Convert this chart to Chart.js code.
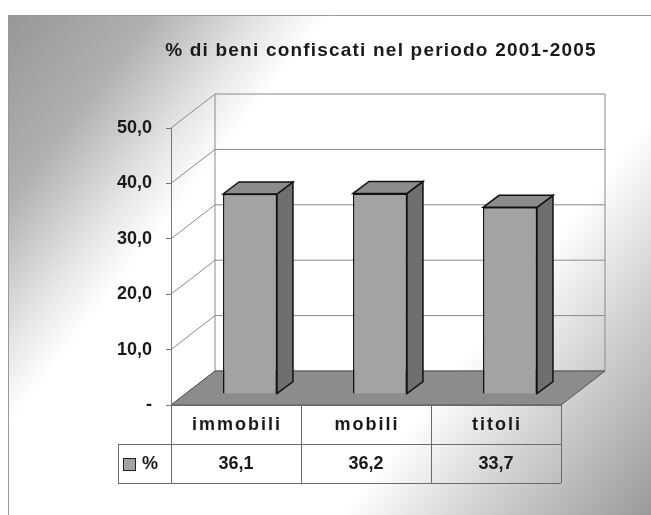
<!DOCTYPE html>
<html>
<head>
<meta charset="utf-8">
<script src="https://cdn.jsdelivr.net/npm/chart.js@4.4.1/dist/chart.umd.min.js"></script>
<style>
	html, body { margin: 0; padding: 0; background: #fff; }
</style>
</head>
<body>
<canvas id="chart" width="651" height="515"></canvas>
<script>
const categories = ['immobili', 'mobili', 'titoli'];
const percentages = [36.1, 36.2, 33.7];
const seriesName = '%';
const chartTitle = '% di beni confiscati nel periodo 2001-2005';
const yMin = 0;
const yMax = 50;
const yStep = 10;

const FONT = '"Liberation Sans", Arial, sans-serif';
const WALL = { dx: 44, dy: -34 };      // offset of the back wall
const SHIFT = { dx: 14, dy: -11 };     // bars stand a bit inside the floor
const BAR = { dx: 16, dy: -12 };       // bar depth

const fmt = (v) => v === 0 ? '-' : v.toFixed(1).replace('.', ',');

const line = (ctx, x1, y1, x2, y2) => {
	ctx.beginPath();
	ctx.moveTo(x1, y1);
	ctx.lineTo(x2, y2);
	ctx.stroke();
};

const poly = (ctx, pts, fill) => {
	ctx.beginPath();
	pts.forEach((p, i) => i ? ctx.lineTo(p[0], p[1]) : ctx.moveTo(p[0], p[1]));
	ctx.closePath();
	ctx.fillStyle = fill;
	ctx.fill();
	ctx.stroke();
};

const scene = {
	id: 'scene',
	beforeDraw(chart) {
		const { ctx, width, height } = chart;
		const { left, right, top, bottom } = chart.chartArea;
		const y = chart.scales.y;
		ctx.save();
		ctx.fillStyle = '#fff';
		ctx.fillRect(0, 0, width, height);

		// page background
		const g = ctx.createLinearGradient(8, 15, width, height);
		g.addColorStop(0, '#979797');
		g.addColorStop(0.14, '#b0b0b0');
		g.addColorStop(0.25, '#e6e6e6');
		g.addColorStop(0.31, '#ffffff');
		g.addColorStop(0.7, '#ffffff');
		g.addColorStop(0.82, '#d4d4d4');
		g.addColorStop(1, '#9a9a9a');
		ctx.fillStyle = g;
		ctx.fillRect(8, 15, width - 8, height - 15);
		ctx.strokeStyle = '#9a9a9a';
		ctx.lineWidth = 1;
		ctx.beginPath();
		ctx.moveTo(8.5, height);
		ctx.lineTo(8.5, 15.5);
		ctx.lineTo(width, 15.5);
		ctx.stroke();

		// title
		ctx.fillStyle = '#1a1a1a';
		ctx.font = 'bold 19px ' + FONT;
		ctx.letterSpacing = '1.2px';
		ctx.textAlign = 'center';
		ctx.textBaseline = 'middle';
		ctx.fillText(chartTitle, 381, 51);
		ctx.letterSpacing = '0px';

		// walls and gridlines
		ctx.strokeStyle = '#8a8a8a';
		for (let v = yMin; v <= yMax; v += yStep) {
			const py = y.getPixelForValue(v);
			line(ctx, left, py, left + WALL.dx, py + WALL.dy);
			line(ctx, left + WALL.dx, py + WALL.dy, right + WALL.dx, py + WALL.dy);
		}
		line(ctx, left + WALL.dx, top + WALL.dy, left + WALL.dx, bottom + WALL.dy);
		line(ctx, right + WALL.dx, top + WALL.dy, right + WALL.dx, bottom + WALL.dy);

		// floor
		ctx.strokeStyle = '#555';
		poly(ctx, [[left, bottom], [right, bottom], [right + WALL.dx, bottom + WALL.dy], [left + WALL.dx, bottom + WALL.dy]], '#8c8c8c');
		ctx.restore();
	},
	beforeDatasetsDraw(chart) {
		chart.ctx.save();
		chart.ctx.translate(SHIFT.dx, SHIFT.dy);
	},
	afterDatasetsDraw(chart) {
		const ctx = chart.ctx;
		ctx.strokeStyle = '#111';
		ctx.lineWidth = 1.5;
		chart.getDatasetMeta(0).data.forEach((el) => {
			const { x, y, base, width } = el.getProps(['x', 'y', 'base', 'width'], true);
			const l = x - width / 2;
			const r = x + width / 2;
			poly(ctx, [[r, y], [r + BAR.dx, y + BAR.dy], [r + BAR.dx, base + BAR.dy], [r, base]], '#6f6f6f');
			poly(ctx, [[l, y], [l + BAR.dx, y + BAR.dy], [r + BAR.dx, y + BAR.dy], [r, y]], '#8c8c8c');
		});
		ctx.restore();
	},
	afterDraw(chart) {
		const ctx = chart.ctx;
		const { left, right, bottom } = chart.chartArea;
		const xs = chart.scales.x;
		const w = (right - left) / categories.length;
		const r0 = bottom;
		const r1 = bottom + 39;
		const r2 = bottom + 78;
		const legendLeft = 118;

		ctx.save();
		ctx.strokeStyle = '#6a6a6a';
		ctx.lineWidth = 1;
		line(ctx, left, r0 + 0.5, right, r0 + 0.5);
		line(ctx, legendLeft, r1 + 0.5, right, r1 + 0.5);
		line(ctx, legendLeft, r2 + 0.5, right, r2 + 0.5);
		line(ctx, legendLeft + 0.5, r1, legendLeft + 0.5, r2);
		for (let i = 0; i <= categories.length; i++) {
			const px = Math.round(left + i * w) + 0.5;
			line(ctx, px, r0, px, r2);
		}

		ctx.fillStyle = '#1a1a1a';
		ctx.textAlign = 'center';
		ctx.textBaseline = 'middle';
		categories.forEach((c, i) => {
			const cx = xs.getPixelForValue(i);
			ctx.font = 'bold 18px ' + FONT;
			ctx.letterSpacing = '2px';
			ctx.fillText(c, cx + 1, r0 + 20);
			ctx.letterSpacing = '0px';
			ctx.fillText(fmt(percentages[i]), cx, r1 + 20);
		});

		// legend key
		ctx.fillStyle = '#a2a2a2';
		ctx.strokeStyle = '#222';
		ctx.fillRect(123.5, r1 + 14.5, 12, 12);
		ctx.strokeRect(123.5, r1 + 14.5, 12, 12);
		ctx.fillStyle = '#1a1a1a';
		ctx.textAlign = 'left';
		ctx.font = 'bold 18px ' + FONT;
		ctx.fillText(seriesName, 142, r1 + 20);
		ctx.restore();
	}
};

new Chart(document.getElementById('chart'), {
	type: 'bar',
	data: {
		labels: categories,
		datasets: [{
			label: seriesName,
			data: percentages,
			backgroundColor: '#a3a3a3',
			borderColor: '#111',
			borderWidth: 1.5,
			barPercentage: 0.415,
			categoryPercentage: 1
		}]
	},
	options: {
		responsive: false,
		animation: false,
		devicePixelRatio: 1,
		layout: { padding: { left: 0, right: 90, top: 128, bottom: 110 } },
		plugins: {
			legend: { display: false },
			title: { display: false },
			tooltip: { enabled: false }
		},
		scales: {
			x: { display: false },
			y: {
				min: yMin,
				max: yMax,
				ticks: {
					stepSize: yStep,
					padding: 14,
					color: '#1a1a1a',
					font: { family: FONT, size: 18, weight: 'bold' },
					callback: (v) => fmt(v)
				},
				grid: { drawOnChartArea: false, drawTicks: true, tickLength: 5, color: '#777' },
				border: { display: true, color: '#777' },
				afterFit: (s) => { s.width = 171; }
			}
		}
	},
	plugins: [scene]
});
</script>
</body>
</html>
